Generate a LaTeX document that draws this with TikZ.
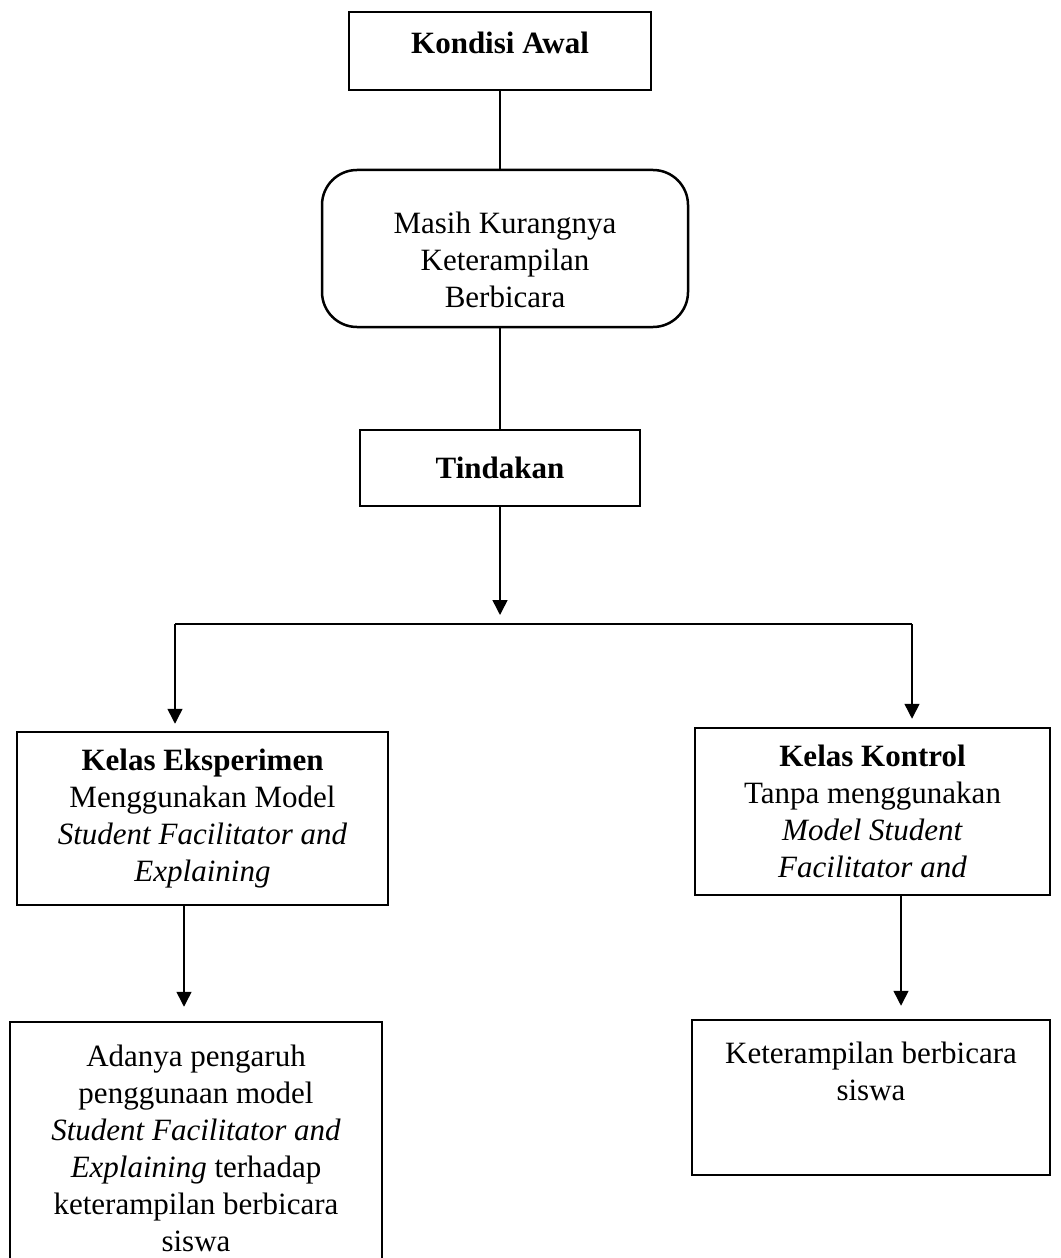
\documentclass[tikz,border=0pt]{standalone}
\usepackage{fontspec}
\setmainfont{Liberation Serif}
\usetikzlibrary{arrows.meta}

\begin{document}
\begin{tikzpicture}[x=0.4pt,y=-0.4pt,>={Triangle[width=6pt,length=6pt]},
  box/.style={draw,line width=1pt,align=center,inner sep=2pt,
    font=\fontsize{12.4}{14.8}\selectfont},
  line/.style={line width=0.6pt},
  arr/.style={->,line width=0.6pt}]
  \useasboundingbox (0,0) rectangle (1060,1258);
  \clip (0,0) rectangle (1060,1258);

  \node[box,minimum width=120.8pt,minimum height=31.2pt] (awal) at (500,51)
    {\textbf{Kondisi Awal}\rule[-6.4pt]{0pt}{6.4pt}};
  \node[box,rounded corners=14pt,minimum width=146.4pt,minimum height=62.8pt]
    (masalah) at (505,248.5) {\rule{0pt}{18pt}Masih Kurangnya\\Keterampilan\\Berbicara};
  \node[box,minimum width=112pt,minimum height=30.4pt] (tindakan) at (500,468)
    {\textbf{Tindakan}};

  \node[box,minimum width=148.4pt,minimum height=69.2pt] (eksp) at (202.5,818.5)
    {\textbf{Kelas Eksperimen}\\Menggunakan Model\\
     \textit{Student Facilitator and}\\\textit{Explaining}};
  \node[box,minimum width=142pt,minimum height=66.8pt] (kontrol) at (872.5,811.5)
    {\textbf{Kelas Kontrol}\\Tanpa menggunakan\\
     \textit{Model Student}\\\textit{Facilitator and}};

  \node[box,minimum width=148.8pt,minimum height=101.2pt] (hasileksp) at (196,1148.5)
    {Adanya pengaruh\\penggunaan model\\\textit{Student Facilitator and}\\
     \textit{Explaining} terhadap\\keterampilan berbicara\\siswa};
  \node[box,minimum width=143.2pt,minimum height=62pt] (hasilkontrol) at (871,1097.5)
    {Keterampilan berbicara\\siswa\rule[-20.8pt]{0pt}{20.8pt}};

  % cabang
  \coordinate (pusat) at (500,624);
  \coordinate (kiri) at (175,624);
  \coordinate (kanan) at (912,624);

  \draw[line] (awal.south) -- (awal.south |- masalah.north);
  \draw[line] (tindakan.north |- masalah.south) -- (tindakan.north);
  \draw[arr,shorten >=3.6pt] (tindakan.south) -- (pusat);
  \draw[line] (kiri) -- (kanan);
  \draw[arr,shorten >=2.8pt] (kiri) -- (kiri |- eksp.north);
  \draw[arr,shorten >=3.2pt] (kanan) -- (kanan |- kontrol.north);
  \draw[arr,shorten >=5.6pt] ([xshift=-7.4pt]eksp.south)
    -- ([xshift=-7.4pt]eksp.south |- hasileksp.north);
  \draw[arr,shorten >=5.2pt] ([xshift=11.4pt]kontrol.south)
    -- ([xshift=11.4pt]kontrol.south |- hasilkontrol.north);
\end{tikzpicture}
\end{document}
